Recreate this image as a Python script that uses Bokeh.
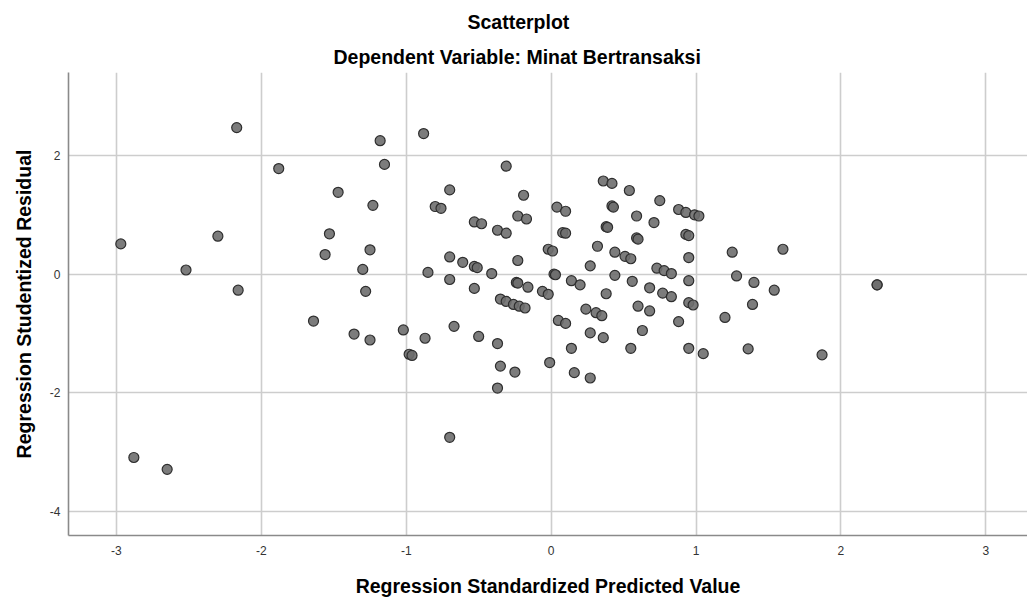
from bokeh.plotting import figure
from bokeh.models import Range1d, FixedTicker, Title
from bokeh.embed import file_html
from bokeh.resources import INLINE

# Regression Standardized Predicted Value (x) and Studentized Residual (y)
pred = [-2.17, -1.88, -1.47, -2.97, -2.30, -1.53, -1.56, -2.52, -2.16, -1.64, -2.88, -2.65,
        -1.18, -0.88, -1.15, -0.31, -0.70, -0.19, -1.23, -0.80, -0.76, 0.04, -0.23, -0.17,
        -0.53, -0.48, -0.37, -0.31, 0.08, 0.10, -1.25, -0.02, 0.01, -0.70, -0.23, -0.61,
        -0.53, -0.51, -1.30, -0.85, -0.41, 0.02, 0.03, -0.70, -0.24, -0.23, -0.16, -0.53,
        -1.28, -0.06, -0.02, -0.35, -0.31, -0.26, -0.22, -0.18, 0.05, -1.36, -1.25, -1.02,
        -0.87, -0.67, -0.50, -0.37, -0.98, -0.96, -0.35, -0.25, -0.01, -0.37, -0.70,
        0.36, 0.42, 0.54, 0.10, 0.42, 0.43, 0.75, 0.88, 0.93, 0.99, 1.02, 0.59, 0.71,
        0.38, 0.39, 0.59, 0.60, 0.93, 0.95, 0.32, 0.44, 0.51, 0.55, 0.95, 1.25, 1.60,
        0.27, 0.44, 0.73, 0.78, 0.83, 0.95, 1.28, 0.14, 0.20, 0.56, 0.68, 1.40, 1.54,
        0.38, 0.77, 0.83, 0.95, 0.98, 1.39, 1.20, 0.24, 0.31, 0.35, 0.10, 0.60, 0.68,
        0.88, 0.27, 0.36, 0.63, 0.14, 0.55, 0.95, 1.05, 1.36, 0.16, 0.27, 2.25, 2.25, 1.87]
resid = [2.47, 1.78, 1.38, 0.51, 0.64, 0.68, 0.33, 0.07, -0.27, -0.79, -3.09, -3.29,
         2.25, 2.37, 1.85, 1.82, 1.42, 1.33, 1.16, 1.14, 1.11, 1.13, 0.98, 0.93,
         0.88, 0.85, 0.74, 0.69, 0.70, 0.69, 0.41, 0.42, 0.39, 0.29, 0.23, 0.20,
         0.13, 0.11, 0.08, 0.03, 0.01, 0.00, -0.01, -0.09, -0.14, -0.15, -0.22, -0.24,
         -0.29, -0.29, -0.34, -0.42, -0.46, -0.51, -0.54, -0.57, -0.78, -1.01, -1.11, -0.94,
         -1.08, -0.88, -1.05, -1.17, -1.35, -1.37, -1.55, -1.65, -1.49, -1.92, -2.75,
         1.57, 1.53, 1.41, 1.06, 1.15, 1.13, 1.24, 1.09, 1.04, 1.00, 0.98, 0.98, 0.87,
         0.80, 0.79, 0.61, 0.59, 0.67, 0.65, 0.47, 0.37, 0.30, 0.26, 0.28, 0.37, 0.42,
         0.14, -0.02, 0.10, 0.06, 0.01, -0.11, -0.03, -0.11, -0.18, -0.12, -0.23, -0.14, -0.27,
         -0.33, -0.32, -0.38, -0.48, -0.52, -0.51, -0.73, -0.59, -0.65, -0.70, -0.83, -0.54, -0.62,
         -0.80, -0.99, -1.07, -0.95, -1.25, -1.25, -1.25, -1.34, -1.26, -1.66, -1.75, -0.18, -0.18, -1.36]

x_ticks = [-3, -2, -1, 0, 1, 2, 3]
y_ticks = [-4, -2, 0, 2]

title_text = "Scatterplot"
subtitle_text = "Dependent Variable: Minat Bertransaksi"
x_label = "Regression Standardized Predicted Value"
y_label = "Regression Studentized Residual"

FONT = "Liberation Sans"

p = figure(width=1027, height=601, output_backend="svg", toolbar_location=None,
           x_range=Range1d(-3.331, 3.288), y_range=Range1d(-4.405, 3.399),
           min_border_left=68, min_border_right=0, min_border_top=72, min_border_bottom=66,
           background_fill_color="white", border_fill_color="white")
p.outline_line_color = None

# titles, centred on the whole image (left-aligned with an offset from the frame's left edge)
p.add_layout(Title(text=subtitle_text, align="left", offset=265, text_font=FONT,
                   text_font_size="19.5px", text_font_style="bold", text_color="black",
                   standoff=10), "above")
p.add_layout(Title(text=title_text, align="left", offset=399, text_font=FONT,
                   text_font_size="19.5px", text_font_style="bold", text_color="black",
                   standoff=12), "above")

p.scatter(pred, resid, size=10, marker="circle", fill_color="#6e6e6e", fill_alpha=0.9,
          line_color="#2e2e2e", line_width=1.2)

for ax in (p.xaxis[0], p.yaxis[0]):
    ax.major_tick_out = 0
    ax.major_tick_in = 0
    ax.minor_tick_out = 0
    ax.minor_tick_in = 0
    ax.axis_line_color = "#8a8a8a"
    ax.axis_line_width = 1.6
    ax.major_label_text_font = FONT
    ax.major_label_text_font_size = "12px"
    ax.major_label_text_color = "#333333"
    ax.axis_label_text_font = FONT
    ax.axis_label_text_font_size = "19.5px"
    ax.axis_label_text_font_style = "bold"
    ax.axis_label_text_color = "black"

p.xaxis[0].ticker = FixedTicker(ticks=x_ticks)
p.yaxis[0].ticker = FixedTicker(ticks=y_ticks)
p.xaxis[0].major_label_overrides = {t: str(t) for t in x_ticks}
p.yaxis[0].major_label_overrides = {t: str(t) for t in y_ticks}
p.xaxis[0].axis_label = x_label
p.yaxis[0].axis_label = y_label
p.xaxis[0].major_label_standoff = 10
p.yaxis[0].major_label_standoff = 8
p.xaxis[0].axis_label_standoff = 17
p.yaxis[0].axis_label_standoff = 12

p.xgrid[0].ticker = FixedTicker(ticks=x_ticks)
p.ygrid[0].ticker = FixedTicker(ticks=y_ticks)
for g in (p.xgrid[0], p.ygrid[0]):
    g.grid_line_color = "#cdcdcd"
    g.grid_line_width = 1.6

open("out.html", "w").write(file_html(p, INLINE))
